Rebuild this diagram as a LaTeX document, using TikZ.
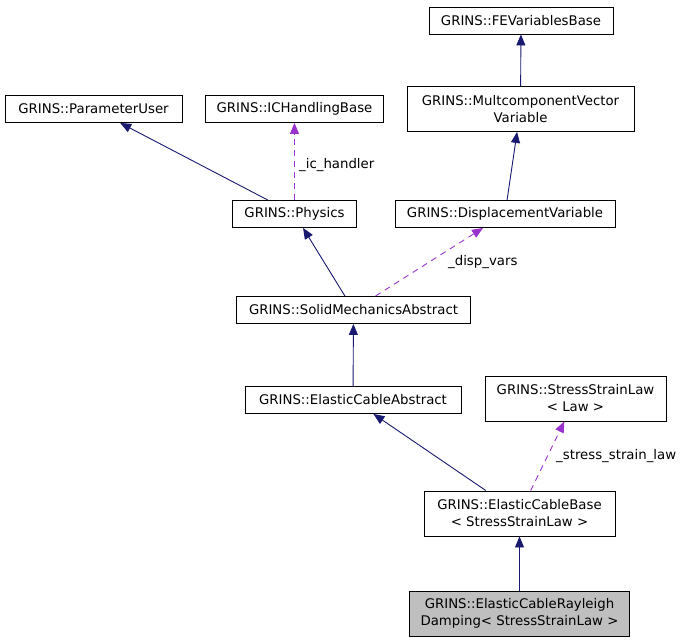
\documentclass[tikz,border=0pt]{standalone}
\usepackage{fontspec}
\setmainfont{DejaVu Sans}
\usetikzlibrary{arrows.meta}
\definecolor{inherit}{HTML}{191970}
\definecolor{usage}{HTML}{9A32CD}
\definecolor{current}{HTML}{BFBFBF}
\begin{document}
\begin{tikzpicture}
        [x=1pt, y=-1pt,
        cls/.style={draw, rectangle, line width=0.9pt, inner sep=0pt, align=center,
            font=\fontsize{13.3}{17}\selectfont},
        base/.style={inherit, line width=0.9pt, -{Triangle[length=11pt, width=9pt]}},
        uses/.style={usage, line width=0.9pt, dash pattern=on 6pt off 5pt,
            -{Triangle[length=11pt, width=9pt]}},
        lbl/.style={font=\fontsize{13.3}{16}\selectfont, inner sep=0pt}]

        \useasboundingbox (0,0) rectangle (685,643);

        \node[cls, minimum width=184pt, minimum height=27pt] (fev) at (521,20.5) {GRINS::FEVariablesBase};
        \node[cls, minimum width=177pt, minimum height=27pt] (param) at (93.5,109) {GRINS::ParameterUser};
        \node[cls, minimum width=178pt, minimum height=27pt] (ich) at (294.5,109) {GRINS::ICHandlingBase};
        \node[cls, minimum width=227pt, minimum height=45pt] (mcv) at (520.5,109) {GRINS::MultcomponentVector\\Variable};
        \node[cls, minimum width=124pt, minimum height=27pt] (phys) at (294.5,214) {GRINS::Physics};
        \node[cls, minimum width=220pt, minimum height=27pt] (disp) at (505,214) {GRINS::DisplacementVariable};
        \node[cls, minimum width=234pt, minimum height=27pt] (solid) at (353.5,310) {GRINS::SolidMechanicsAbstract};
        \node[cls, minimum width=216pt, minimum height=27pt] (eca) at (353,400) {GRINS::ElasticCableAbstract};
        \node[cls, minimum width=181pt, minimum height=45pt] (ssl) at (575.5,398.5) {GRINS::StressStrainLaw\\< Law >};
        \node[cls, minimum width=191pt, minimum height=45pt] (ecb) at (519.5,513.5) {GRINS::ElasticCableBase\\< StressStrainLaw >};
        \node[cls, fill=current, minimum width=220pt, minimum height=45pt] (ecr) at (519.5,613.5) {GRINS::ElasticCableRayleigh\\Damping< StressStrainLaw >};

        % inheritance (blue arrows)
        \draw[base] (mcv) -- (fev);
        \draw[base] (phys) -- (param);
        \draw[base] (disp) -- (mcv);
        \draw[base] (solid) -- (phys);
        \draw[base] (eca) -- (solid);
        \draw[base] (ecb) -- (eca);
        \draw[base] (ecr) -- (ecb);

        % usage (dashed purple arrows)
        \draw[uses] (phys) -- (ich);
        \draw[uses] (solid) -- (disp);
        \draw[uses] (ecb) -- (ssl);

        % Labels for the usage arrows
        \node[lbl, anchor=west] (ichlbl) at (299,165) {\_ic\_handler};
        \node[lbl, anchor=west] (displbl) at (448,262) {\_disp\_vars};
        \node[lbl, anchor=west] (ssllbl) at (556,456) {\_stress\_strain\_law};

    \end{tikzpicture}
\end{document}
